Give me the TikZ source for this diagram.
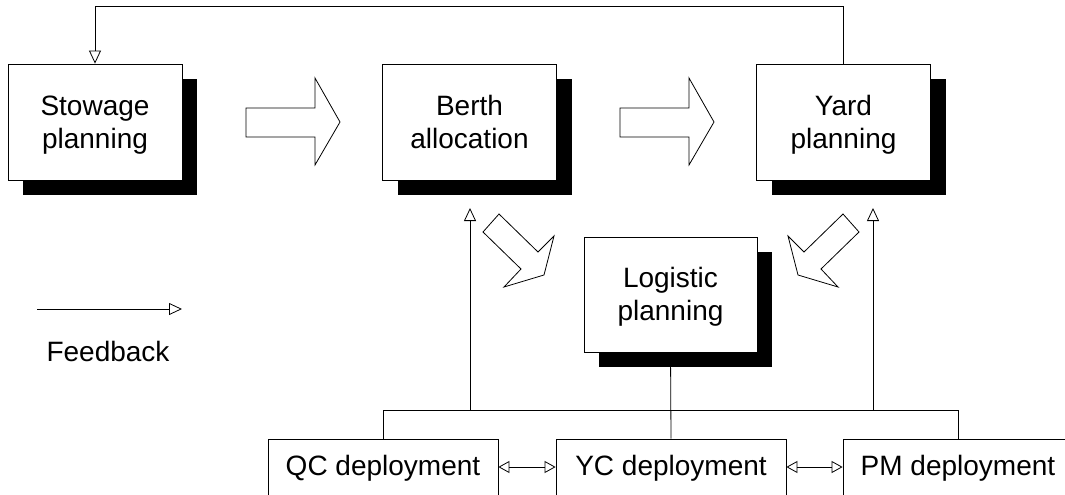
\documentclass[tikz,border=0pt]{standalone}
\usepackage{fontspec}
\setmainfont{Liberation Sans}
\usetikzlibrary{arrows.meta,shadows}
% two centred lines with fixed baselines, whatever the letters
\newcommand{\planlines}[2]{\rule{0pt}{26pt}#1\\#2\rule[-7pt]{0pt}{7pt}}
\tikzset{
  plan/.style={draw=black, line width=0.8pt, fill=white, align=center,
    minimum width=174pt, minimum height=116pt, inner sep=0pt,
    font=\fontsize{28}{33}\selectfont,
    drop shadow={shadow xshift=15pt, shadow yshift=-15pt, fill=black, opacity=1}},
  deploy/.style={draw=black, line width=0.8pt, fill=white,
    minimum width=230pt, minimum height=58pt, inner sep=0pt,
    font=\fontsize{28}{33}\selectfont},
  wire/.style={line width=0.8pt},
  fb/.style={wire, -{Triangle[open, length=13pt, width=12pt]}},
  both/.style={wire, {Triangle[open, length=11pt, width=12pt]}-{Triangle[open, length=11pt, width=12pt]}},
  flow/.style={draw=black, line width=0.8pt, fill=white, line join=miter},
  caption/.style={font=\fontsize{28}{33}\selectfont}
}
\begin{document}
\begin{tikzpicture}[x=1pt, y=-1pt]
\useasboundingbox (0,0) rectangle (1065,495);

% planning boxes
\node[plan] (stow)  at (95,122)    {\planlines{Stowage}{planning}};
\node[plan] (berth) at (469.5,122) {\planlines{Berth}{allocation}};
\node[plan] (yard)  at (843.5,122) {\planlines{Yard}{planning}};
\node[plan, minimum width=173pt, minimum height=115pt] (log) at (670.5,294.5) {\planlines{Logistic}{planning}};

% deployment boxes
\node[deploy] (qc) at (383,468) {QC deployment};
\node[deploy] (yc) at (671,468) {YC deployment};
\node[deploy] (pm) at (958,468) {PM deployment};

% block arrows between the planning stages
\draw[flow] (246,108) -- (315,108) -- (315,78) -- (340,122) -- (315,165) -- (315,137) -- (246,137) -- cycle;
\draw[flow] (620,108) -- (689,108) -- (689,78) -- (714,122) -- (689,165) -- (689,137) -- (620,137) -- cycle;
\draw[flow] (483,232) -- (499,214) -- (538,252) -- (554,236) -- (544,275) -- (504,287) -- (521,269) -- cycle;
\draw[flow] (859,232) -- (843,214) -- (804,252) -- (788,236) -- (798,275) -- (838,287) -- (821,269) -- cycle;

% distribution bus to the deployment boxes
\coordinate (bus) at (0,410);
\draw[wire] (qc.north) -- (qc.north |- bus) -- (pm.north |- bus) -- (pm.north);
\draw[wire] (log.south) -- (yc.north);

% feedback arrows
\coordinate (fbL) at (470,410);
\coordinate (fbLt) at (470,208);
\coordinate (fbR) at (873,410);
\coordinate (fbRt) at (873,208);
\draw[fb] (fbL) -- (fbLt);
\draw[fb] (fbR) -- (fbRt);
\draw[fb] (yard.north) -- ++(0,-57) -| (stow.north);

% coordination between deployments
\draw[both] (qc.east |- 0,467) -- (yc.west |- 0,467);
\draw[both] (yc.east |- 0,467) -- (pm.west |- 0,467);

% legend
\coordinate (legA) at (37,309);
\coordinate (legB) at (182,309);
\draw[fb] (legA) -- (legB);
\node[caption] (legtext) at (108,351) {Feedback};
\end{tikzpicture}
\end{document}
